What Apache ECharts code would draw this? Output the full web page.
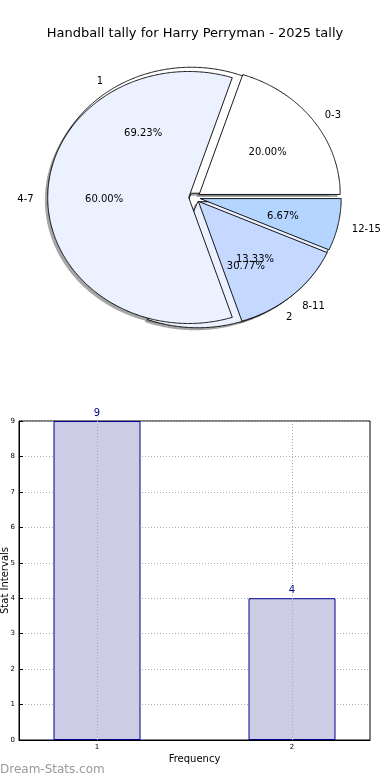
<!DOCTYPE html>
<html><head><meta charset="utf-8">
<script src="https://cdn.jsdelivr.net/npm/echarts@6/dist/echarts.min.js"></script>
<style>html,body{margin:0;padding:0;background:#fff}#c{width:390px;height:780px}</style>
</head><body><div id="c"></div>
<script>
const titleText = 'Handball tally for Harry Perryman - 2025 tally';
const outerCategories = ['1', '2'];
const outerValues = [9, 4];
const innerCategories = ['0-3', '4-7', '8-11', '12-15'];
const innerValues = [3, 9, 2, 1];
const outerColors = ['#FFFFFF', '#EBF1FF'];
const innerColors = ['#FFFFFF', '#EBF1FF', '#C5D8FF', '#B3D5FF'];
const barCategories = [1, 2];
const barValues = [9, 4];
const xAxisName = 'Frequency';
const yAxisName = 'Stat Intervals';
const watermark = 'Dream-Stats.com';

const FONT = '"DejaVu Sans", Verdana, sans-serif';
const PIE = { cx: 194.5, cy: 197.5, rx: 141, ry: 126, explode: 0.041, labelDist: 1.1, pctDist: 0.6, textDy: 2,
  shadowDx: -2.8, shadowDy: 2.5 };

function wedges(values) {
  const total = values.reduce((a, b) => a + b, 0);
  let acc = 0;
  return values.map(v => {
    const a1 = acc / total * 2 * Math.PI;
    acc += v;
    const a2 = acc / total * 2 * Math.PI;
    return { a1, a2, mid: (a1 + a2) / 2, frac: v / total };
  });
}
function origin(w) {
  return [PIE.cx + PIE.explode * PIE.rx * Math.cos(w.mid), PIE.cy - PIE.explode * PIE.ry * Math.sin(w.mid)];
}
function arcPoints(o, a1, a2) {
  const pts = [[o[0], o[1]]];
  const n = Math.max(4, Math.ceil((a2 - a1) / (Math.PI / 360)));
  for (let i = 0; i <= n; i++) {
    const a = a1 + (a2 - a1) * i / n;
    pts.push([o[0] + PIE.rx * Math.cos(a), o[1] - PIE.ry * Math.sin(a)]);
  }
  return pts;
}
function shadowRender(values) {
  const ws = wedges(values);
  return function (params, api) {
    const w = ws[params.dataIndex];
    const pts = arcPoints(origin(w), w.a1, w.a2).map(p => [p[0] + PIE.shadowDx, p[1] + PIE.shadowDy]);
    return { type: 'polygon', shape: { points: pts }, style: { fill: 'rgba(77,77,77,0.5)', stroke: null } };
  };
}
function wedgeRender(values, colors) {
  const ws = wedges(values);
  return function (params, api) {
    const w = ws[params.dataIndex];
    const pts = arcPoints(origin(w), w.a1, w.a2);
    return { type: 'polygon', shape: { points: pts },
      style: { fill: colors[params.dataIndex % colors.length], stroke: '#000', lineWidth: 0.9, lineJoin: 'miter' } };
  };
}
function labelRender(values, cats) {
  const ws = wedges(values);
  return function (params, api) {
    const i = params.dataIndex;
    const w = ws[i];
    const o = origin(w);
    const c = Math.cos(w.mid), s = Math.sin(w.mid);
    const lx = o[0] + PIE.labelDist * PIE.rx * c, ly = o[1] - PIE.labelDist * PIE.ry * s + PIE.textDy;
    const px = o[0] + PIE.pctDist * PIE.rx * c, py = o[1] - PIE.pctDist * PIE.ry * s + PIE.textDy;
    return { type: 'group', children: [
      { type: 'text', x: lx, y: ly, style: { text: cats[i], fill: '#000', fontSize: 10, fontFamily: FONT,
        align: c > 0 ? 'left' : 'right', verticalAlign: 'middle' } },
      { type: 'text', x: px, y: py, style: { text: (w.frac * 100).toFixed(2) + '%', fill: '#000', fontSize: 10, fontFamily: FONT,
        align: 'center', verticalAlign: 'middle' } }
    ] };
  };
}
const outerData = outerValues.map((v, i) => ({ name: outerCategories[i], value: [i, v] }));
const innerData = innerValues.map((v, i) => ({ name: innerCategories[i], value: [i, v] }));

const chart = echarts.init(document.getElementById('c'), null, { renderer: 'canvas' });
chart.setOption({
  animation: false,
  backgroundColor: '#fff',
  title: { text: titleText, left: 'center', top: 22, textStyle: { fontSize: 13, fontWeight: 'normal', color: '#000', fontFamily: FONT } },
  graphic: [{ type: 'text', left: 0, top: 764, style: { text: watermark, fontSize: 12, fontFamily: FONT, fill: '#999' } }],
  grid: { left: 19, top: 421, width: 351, height: 319, show: true, borderColor: '#000', borderWidth: 1,
    containLabel: false, outerBoundsMode: 'none' },
  xAxis: {
    type: 'value', min: 0.6, max: 2.4,
    name: xAxisName, nameLocation: 'middle', nameGap: 14, nameMoveOverlap: false,
    nameTextStyle: { fontSize: 10, color: '#000', fontFamily: FONT },
    axisLine: { show: true, lineStyle: { color: '#000', width: 1 } },
    axisTick: { show: true, inside: true, length: 4, customValues: barCategories, lineStyle: { color: '#000' } },
    axisLabel: { customValues: barCategories, fontSize: 7, color: '#000', fontFamily: FONT, margin: 4 },
    splitLine: { show: false }
  },
  yAxis: {
    type: 'value', min: 0, max: 9, interval: 1,
    name: yAxisName, nameLocation: 'middle', nameGap: 9, nameMoveOverlap: false,
    nameTextStyle: { fontSize: 10, color: '#000', fontFamily: FONT },
    axisLine: { show: true, lineStyle: { color: '#000', width: 1 } },
    axisTick: { show: true, inside: true, length: 4, lineStyle: { color: '#000' } },
    axisLabel: { fontSize: 7, color: '#000', fontFamily: FONT, margin: 4 },
    splitLine: { show: true, lineStyle: { color: '#aaa', type: [1, 2], width: 1 } }
  },
  series: [
    { type: 'custom', coordinateSystem: 'none', z: 1, silent: true, data: outerData, renderItem: shadowRender(outerValues) },
    { type: 'custom', coordinateSystem: 'none', z: 1, silent: true, data: innerData, renderItem: shadowRender(innerValues) },
    { type: 'custom', coordinateSystem: 'none', z: 2, silent: true, data: outerData, renderItem: wedgeRender(outerValues, outerColors) },
    { type: 'custom', coordinateSystem: 'none', z: 3, silent: true, data: innerData, renderItem: wedgeRender(innerValues, innerColors) },
    { type: 'custom', coordinateSystem: 'none', z: 4, silent: true, data: outerData, renderItem: labelRender(outerValues, outerCategories) },
    { type: 'custom', coordinateSystem: 'none', z: 4, silent: true, data: innerData, renderItem: labelRender(innerValues, innerCategories) },
    { type: 'bar', data: barCategories.map((c, i) => [c, barValues[i]]), barWidth: 87,
      itemStyle: { color: '#CCCCE5', borderColor: '#00008B', borderWidth: 1 },
      label: { show: true, position: 'top', distance: 3, color: '#00008B', fontSize: 10, fontFamily: FONT,
        formatter: p => String(p.value[1]) },
      markLine: { silent: true, symbol: 'none', label: { show: false },
        lineStyle: { color: '#aaa', type: [1, 2], width: 1 },
        data: barCategories.map(c => ({ xAxis: c })) } }
  ]
});
</script></body></html>
